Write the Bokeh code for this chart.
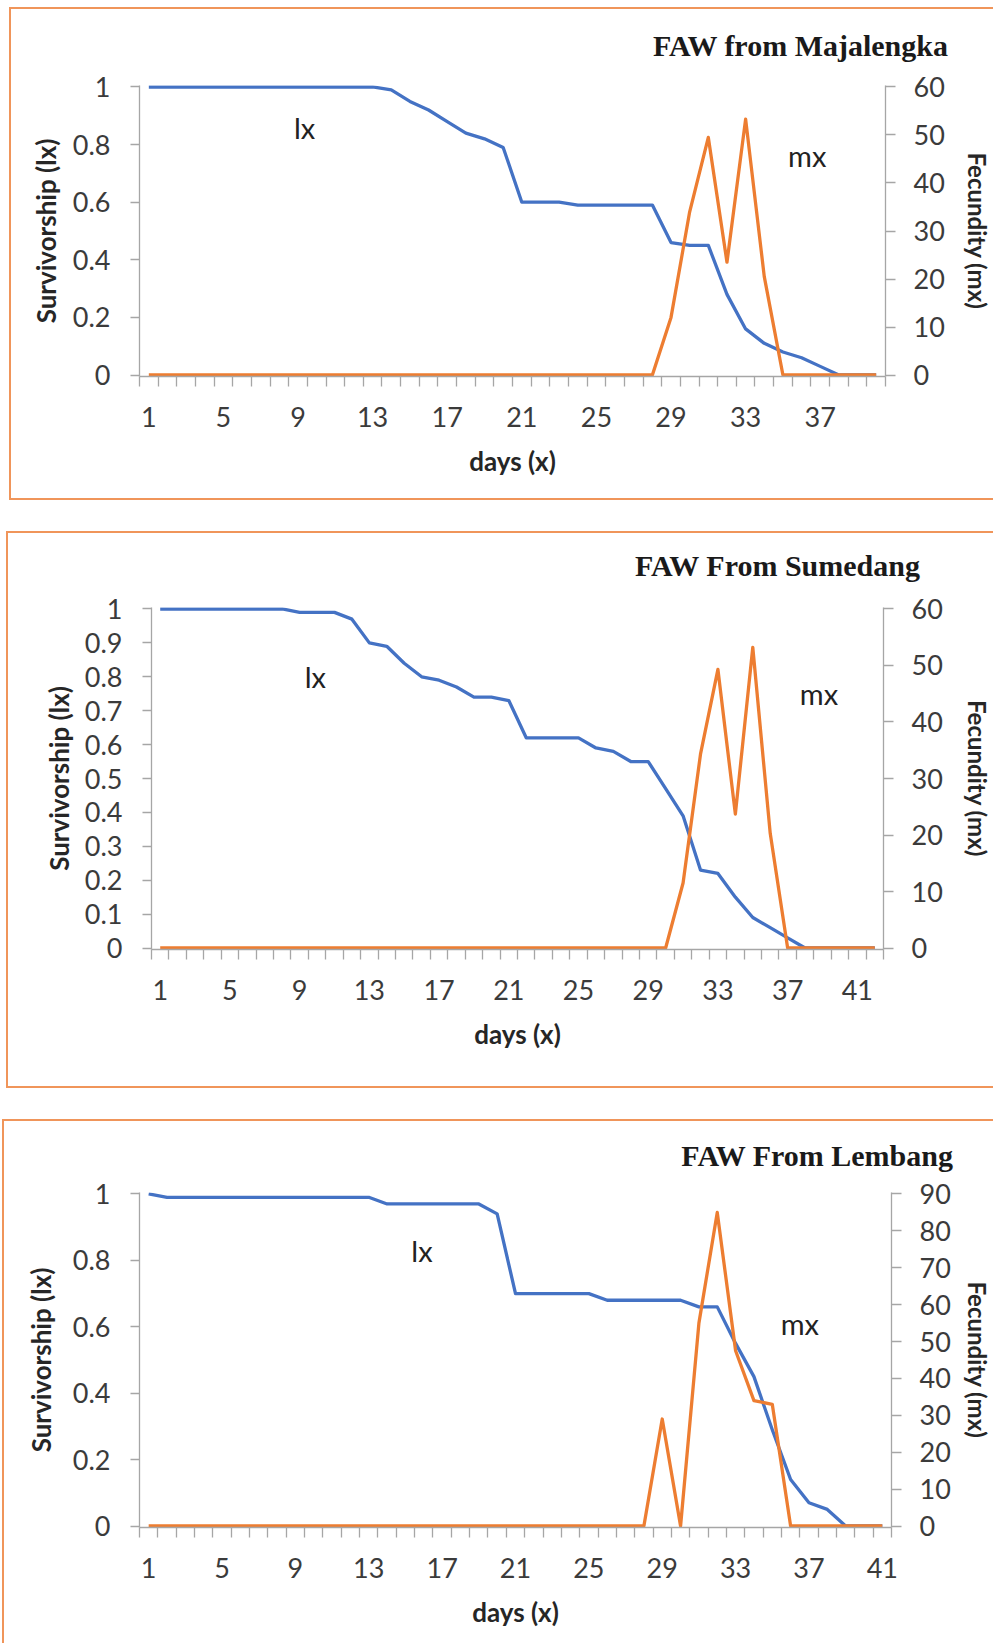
import math
from bokeh.plotting import figure
from bokeh.models import (Range1d, LinearAxis, FixedTicker, NumeralTickFormatter, Label,
                          CustomJSTickFormatter)
from bokeh.embed import file_html
from bokeh.resources import INLINE

# ---------------- data ----------------
maj_days = list(range(1, 41))
maj_lx = [1, 1, 1, 1, 1, 1, 1, 1, 1, 1, 1, 1, 1, 0.99, 0.95, 0.92, 0.88, 0.84, 0.82, 0.79,
          0.60, 0.60, 0.60, 0.59, 0.59, 0.59, 0.59, 0.59, 0.46, 0.45, 0.45, 0.28, 0.16, 0.11,
          0.08, 0.06, 0.03, 0, 0, 0]
maj_mx = [0, 0, 0, 0, 0, 0, 0, 0, 0, 0, 0, 0, 0, 0, 0, 0, 0, 0, 0, 0,
          0, 0, 0, 0, 0, 0, 0, 0, 12, 34, 49.5, 23.5, 53.3, 20.5, 0, 0, 0, 0, 0, 0]

sum_days = list(range(1, 43))
sum_lx = [1, 1, 1, 1, 1, 1, 1, 1, 0.99, 0.99, 0.99, 0.97, 0.90, 0.89, 0.84, 0.80, 0.79, 0.77,
          0.74, 0.74, 0.73, 0.62, 0.62, 0.62, 0.62, 0.59, 0.58, 0.55, 0.55, 0.47, 0.39, 0.23,
          0.22, 0.15, 0.09, 0.06, 0.03, 0, 0, 0, 0, 0]
sum_mx = [0, 0, 0, 0, 0, 0, 0, 0, 0, 0, 0, 0, 0, 0, 0, 0, 0, 0, 0, 0,
          0, 0, 0, 0, 0, 0, 0, 0, 0, 0, 11.5, 34.3, 49.3, 23.7, 53.2, 20.3, 0, 0, 0, 0, 0, 0]

lem_days = list(range(1, 42))
lem_lx = [1, 0.99, 0.99, 0.99, 0.99, 0.99, 0.99, 0.99, 0.99, 0.99, 0.99, 0.99, 0.99, 0.97,
          0.97, 0.97, 0.97, 0.97, 0.97, 0.94, 0.70, 0.70, 0.70, 0.70, 0.70, 0.68, 0.68, 0.68,
          0.68, 0.68, 0.66, 0.66, 0.55, 0.45, 0.29, 0.14, 0.07, 0.05, 0, 0, 0]
lem_mx = [0, 0, 0, 0, 0, 0, 0, 0, 0, 0, 0, 0, 0, 0, 0, 0, 0, 0, 0, 0,
          0, 0, 0, 0, 0, 0, 0, 0, 29, 0, 55, 85, 47.5, 34, 33, 0, 0, 0, 0, 0, 0]

day_labels_a = [1, 5, 9, 13, 17, 21, 25, 29, 33, 37]
day_labels_b = [1, 5, 9, 13, 17, 21, 25, 29, 33, 37, 41]
lx_ticks_a = [0, 0.2, 0.4, 0.6, 0.8, 1]
lx_ticks_b = [0, 0.1, 0.2, 0.3, 0.4, 0.5, 0.6, 0.7, 0.8, 0.9, 1]
mx_ticks_a = [0, 10, 20, 30, 40, 50, 60]
mx_ticks_b = [0, 10, 20, 30, 40, 50, 60, 70, 80, 90]

titles = ["FAW from Majalengka", "FAW From Sumedang", "FAW From Lembang"]

# ---------------- style ----------------
BLUE = "#4472C4"
ORANGE = "#ED7D31"
AXIS = "#A6A6A6"
TICKTXT = "#3b3b3b"
LABTXT = "#262626"
BORDER = "#F0955A"
SANS = "Lato"


def make_panel(title, days, lx, mx, lx_ticks, mx_ticks, x_labels, g, lx_pos, mx_pos, borders):
    n = len(days)
    fw = g["FW"]
    fh = g["FH"]
    pad = 1.5 / fh
    mtop = mx_ticks[-1]

    p = figure(frame_width=fw, frame_height=fh, output_backend="svg", toolbar_location=None,
               x_range=Range1d(0.5, n + 0.5), y_range=Range1d(-pad, 1 + pad),
               min_border_left=g["L"], min_border_right=g["R"],
               min_border_top=g["T"], min_border_bottom=g["B"],
               margin=g["margin"])
    p.extra_y_ranges = {"mx": Range1d(-pad * mtop, mtop * (1 + pad))}
    p.outline_line_color = None
    p.xgrid.visible = False
    p.ygrid.visible = False
    p.background_fill_color = "white"
    p.border_fill_color = "white"
    p.styles = borders

    xa = p.below[0]
    ya = p.left[0]

    # invisible spacer above the frame, so the title sits at the right height
    sp = LinearAxis(ticker=FixedTicker(ticks=[1]), axis_line_color=None,
                    major_tick_line_color=None, minor_tick_line_color=None,
                    major_tick_out=g["E"], major_tick_in=0, major_label_standoff=0,
                    major_label_text_font_size="1px", major_label_text_alpha=0,
                    formatter=CustomJSTickFormatter(code="return ''"))
    p.add_layout(sp, "above")

    # title (right aligned, serif bold)
    p.title.text = title
    p.title.align = "right"
    p.title.vertical_align = "middle"
    p.title.offset = g["t_off"]
    p.title.standoff = g["t_so"]
    p.title.text_font = "Liberation Serif"
    p.title.text_font_style = "bold"
    p.title.text_font_size = "30px"
    p.title.text_color = "#1a1a1a"

    p.line(days, lx, line_color=BLUE, line_width=3.3, line_join="round")
    p.line(days, mx, line_color=ORANGE, line_width=3.3, line_join="round", y_range_name="mx")

    # bottom axis
    xa.ticker = FixedTicker(ticks=x_labels, minor_ticks=[d - 0.5 for d in days] + [n + 0.5])
    xa.major_tick_line_color = None
    xa.major_tick_out = 10
    xa.major_tick_in = 0
    xa.minor_tick_out = 10
    xa.minor_tick_in = 0
    xa.minor_tick_line_color = AXIS
    xa.minor_tick_line_width = 1.3
    xa.axis_line_color = AXIS
    xa.axis_line_width = 1.3
    xa.major_label_standoff = 20
    xa.major_label_text_font = SANS
    xa.major_label_text_font_size = "27px"
    xa.major_label_text_color = TICKTXT
    xa.axis_label = "days (x)"
    xa.axis_label_text_font = SANS
    xa.axis_label_text_font_style = "bold"
    xa.axis_label_text_font_size = "26px"
    xa.axis_label_text_color = LABTXT
    xa.axis_label_standoff = 15

    # left axis
    ya.ticker = FixedTicker(ticks=lx_ticks)
    ya.formatter = NumeralTickFormatter(format="0.[0]")
    ya.major_tick_out = 9
    ya.major_tick_in = 0
    ya.major_tick_line_color = AXIS
    ya.major_tick_line_width = 1.3
    ya.minor_tick_line_color = None
    ya.axis_line_color = AXIS
    ya.axis_line_width = 1.3
    ya.major_label_standoff = 20
    ya.major_label_text_font = SANS
    ya.major_label_text_font_size = "27px"
    ya.major_label_text_color = TICKTXT
    ya.axis_label = "Survivorship (lx)"
    ya.axis_label_text_font = SANS
    ya.axis_label_text_font_style = "bold"
    ya.axis_label_text_font_size = "26px"
    ya.axis_label_text_color = LABTXT
    ya.axis_label_standoff = g["ylab_so"]

    # right axis
    ra = LinearAxis(y_range_name="mx", ticker=FixedTicker(ticks=mx_ticks))
    ra.major_tick_out = 10
    ra.major_tick_in = 0
    ra.major_tick_line_color = AXIS
    ra.major_tick_line_width = 1.3
    ra.minor_tick_line_color = None
    ra.axis_line_color = AXIS
    ra.axis_line_width = 1.3
    ra.major_label_standoff = 18
    ra.major_label_text_font = SANS
    ra.major_label_text_font_size = "27px"
    ra.major_label_text_color = TICKTXT
    ra.axis_label = "Fecundity (mx)"
    ra.axis_label_text_font = SANS
    ra.axis_label_text_font_style = "bold"
    ra.axis_label_text_font_size = "24px"
    ra.axis_label_text_color = LABTXT
    ra.axis_label_standoff = g["rlab_so"]
    p.add_layout(ra, "right")

    # series labels
    p.add_layout(Label(x=lx_pos[0], y=lx_pos[1], text="lx", text_align="center",
                       text_baseline="middle", text_font=SANS, text_font_size="29px",
                       text_color="#222222"))
    p.add_layout(Label(x=mx_pos[0], y=mx_pos[1], text="mx", text_align="center",
                       text_baseline="middle", text_font=SANS, text_font_size="29px",
                       text_color="#222222"))
    return p


B = "2px solid " + BORDER
g1 = dict(FW=746, FH=291, L=128, R=106, T=76, B=122, margin=(7, 0, 0, 9),
          E=7, t_off=-63, t_so=31, ylab_so=8, rlab_so=15)
g2 = dict(FW=732, FH=342, L=143, R=108, T=74, B=137, margin=(31, 0, 0, 6),
          E=13, t_off=-37, t_so=23, ylab_so=7, rlab_so=17)
g3 = dict(FW=752, FH=335, L=135, R=100, T=71, B=116, margin=(31, 0, 0, 2),
          E=6, t_off=-62, t_so=27, ylab_so=13, rlab_so=9)

p1 = make_panel(titles[0], maj_days, maj_lx, maj_mx, lx_ticks_a, mx_ticks_a, day_labels_a, g1,
                (9.35, 0.86), (36.3, 0.763),
                {"border-top": B, "border-left": B, "border-bottom": B})
p2 = make_panel(titles[1], sum_days, sum_lx, sum_mx, lx_ticks_b, mx_ticks_a, day_labels_b, g2,
                (9.9, 0.80), (38.8, 0.75),
                {"border-top": B, "border-left": B, "border-bottom": B})
p3 = make_panel(titles[2], lem_days, lem_lx, lem_mx, lx_ticks_a, mx_ticks_b, day_labels_b, g3,
                (15.9, 0.83), (36.5, 0.61),
                {"border-top": B, "border-left": B})

with open("out.html", "w") as f:
    f.write(file_html([p1, p2, p3], INLINE))
